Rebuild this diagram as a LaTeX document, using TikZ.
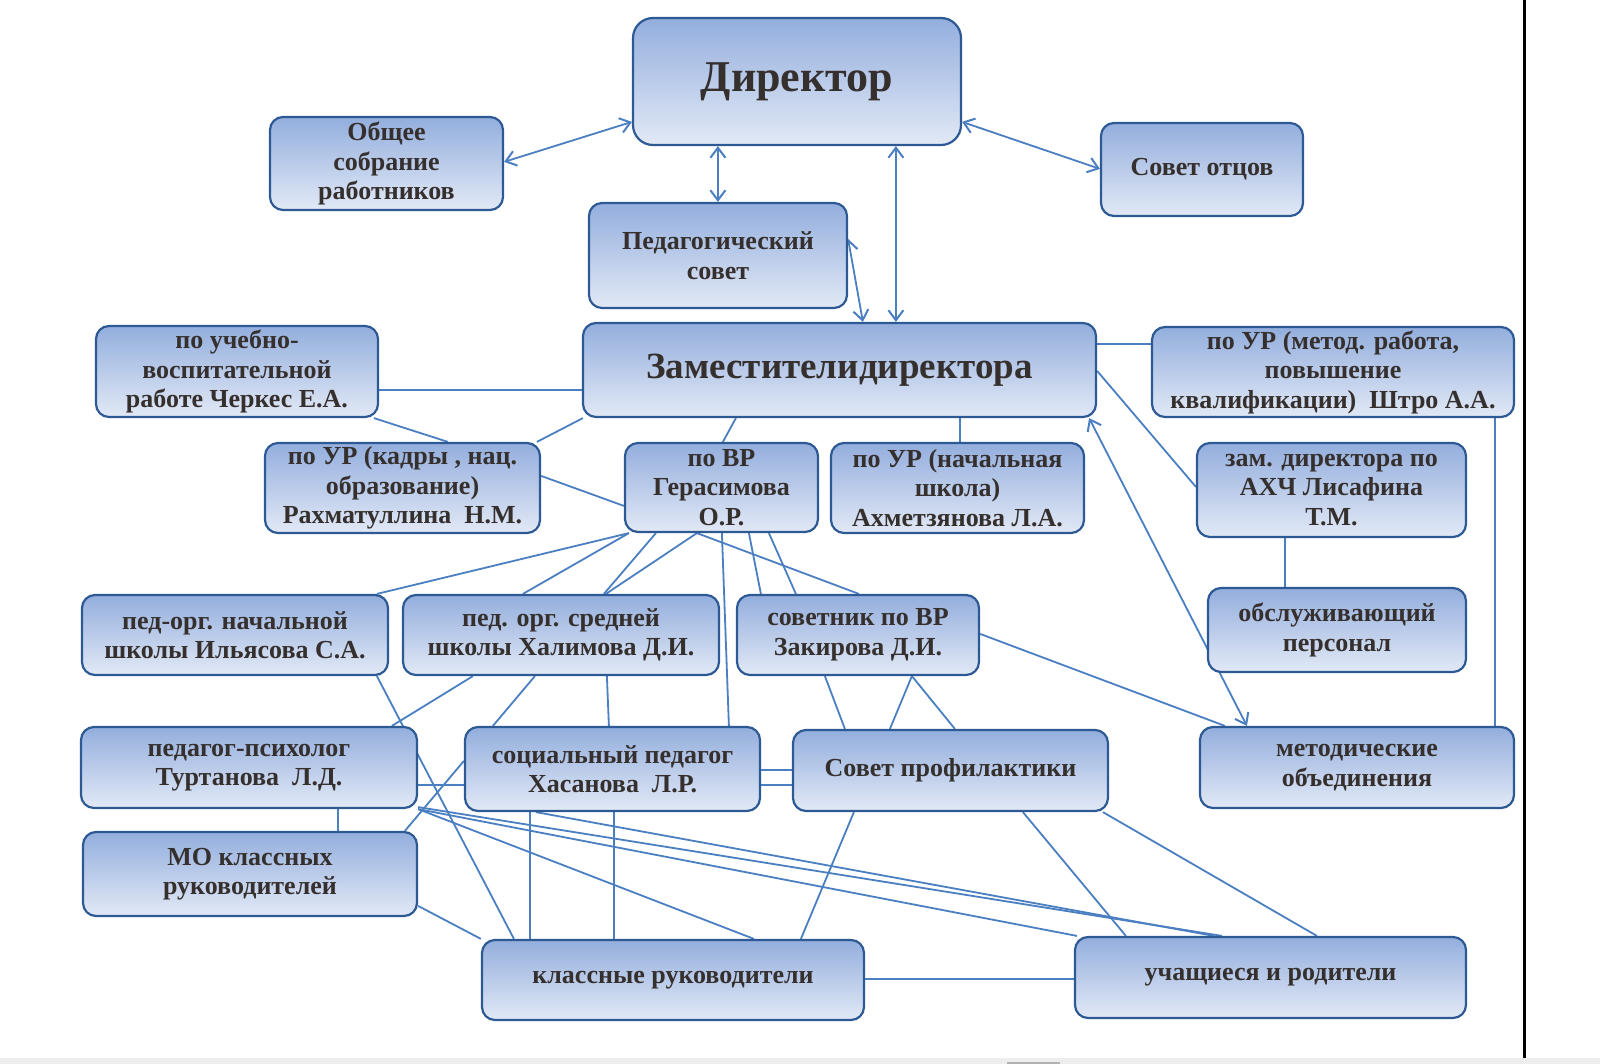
\documentclass[tikz,border=0pt]{standalone}
\usepackage{fontspec}
\setmainfont{Liberation Serif}
\usetikzlibrary{calc,arrows.meta}
\definecolor{boxtop}{HTML}{93AEDD}
\definecolor{boxbot}{HTML}{E2E9F6}
\definecolor{boxline}{HTML}{2D5A95}
\definecolor{connc}{HTML}{4A7FC1}
\definecolor{txtc}{HTML}{35302E}
\pgfdeclarelayer{bg}
\pgfsetlayers{bg,main}
\newcommand\myconn[5][link]{\draw[#1] ($(#2)+(#3)$) -- ($(#4)+(#5)$);}
\begin{document}
\begin{tikzpicture}[x=1pt,y=-1pt,
  box/.style={draw=boxline, line width=2.2pt, rounded corners=13pt,
    top color=boxtop, bottom color=boxbot, align=center, inner sep=0pt,
    text=txtc, font=\fontsize{26}{29.5}\selectfont\bfseries},
  link/.style={draw=connc, line width=1.8pt},
  dlink/.style={link, {Straight Barb[length=10pt,width=15pt,line width=2pt]}-{Straight Barb[length=10pt,width=15pt,line width=2pt]}}]
\useasboundingbox (0,0) rectangle (1600,1064);

\node[box, minimum width=328pt, minimum height=127pt, rounded corners=20pt,
  font=\fontsize{44}{48}\selectfont\bfseries] (dir) at (797,81.5) {Директор};
\node[box, minimum width=233pt, minimum height=93pt] (obs) at (386.5,163.5) {Общее\\собрание\\работников};
\node[box, minimum width=202pt, minimum height=93pt] (otc) at (1202,169.5) {Совет отцов};
\node[box, minimum width=258pt, minimum height=105pt] (ped) at (718,255.5) {Педагогический\\совет};
\node[box, minimum width=513pt, minimum height=94pt,
  font=\fontsize{37}{41}\selectfont\bfseries] (zam) at (839.5,370) {Заместителидиректора};
\node[box, minimum width=282pt, minimum height=91pt] (che) at (237,371.5) {по учебно-\\воспитательной\\работе Черкес Е.А.};
\node[box, minimum width=362pt, minimum height=90pt] (sht) at (1333,372) {по УР (метод. работа,\\повышение\\квалификации)\ \ Штро А.А.};
\node[box, minimum width=275pt, minimum height=90pt] (rah) at (402.5,488) {по УР (кадры , нац.\\образование)\\Рахматуллина\ \ Н.М.};
\node[box, minimum width=193pt, minimum height=89pt] (ger) at (721.5,487.5) {по ВР\\Герасимова\\О.Р.};
\node[box, minimum width=253pt, minimum height=90pt] (ahm) at (957.5,488) {по УР (начальная\\школа)\\Ахметзянова Л.А.};
\node[box, minimum width=269pt, minimum height=94pt] (ahc) at (1331.5,490) {зам. директора по\\АХЧ Лисафина\\Т.М.};
\node[box, minimum width=306pt, minimum height=80pt] (pon) at (235,635) {пед-орг. начальной\\школы Ильясова С.А.};
\node[box, minimum width=316pt, minimum height=80pt] (pos) at (561,635) {пед. орг. средней\\школы Халимова Д.И.};
\node[box, minimum width=242pt, minimum height=80pt] (sov) at (858,635) {советник по ВР\\Закирова Д.И.};
\node[box, minimum width=258pt, minimum height=84pt] (obl) at (1337,630) {обслуживающий\\персонал};
\node[box, minimum width=336pt, minimum height=81pt] (psy) at (249,767.5) {педагог-психолог\\Туртанова\ \ Л.Д.};
\node[box, minimum width=295pt, minimum height=84pt] (soc) at (612.5,769) {социальный педагог\\Хасанова\ \ Л.Р.};
\node[box, minimum width=315pt, minimum height=81pt] (prf) at (950.5,770.5) {Совет профилактики};
\node[box, minimum width=314pt, minimum height=81pt] (met) at (1357,767.5) {методические\\объединения};
\node[box, minimum width=334pt, minimum height=84pt] (mo) at (250,874) {МО классных\\руководителей};
\node[box, minimum width=382pt, minimum height=80pt] (kl) at (673,980) {классные руководители};
\node[box, minimum width=391pt, minimum height=81pt] (uch) at (1270.5,977.5) {учащиеся и родители};

\begin{pgfonlayer}{bg}
\fill[white] (0,0) rectangle (1600,1064);
\fill[black!7] (0,1058) rectangle (1600,1064);
\fill[black!30] (1007,1062) rectangle (1060,1064);
\draw[line width=3pt] (1524,0) -- (1524,1058);
\myconn[dlink]{obs.north east}{0,46}{dir.north west}{0,105}
\myconn[dlink]{dir.north east}{0,105}{otc.north west}{0,47}
\myconn[dlink]{dir.south west}{86,0}{ped.north west}{130,0}
\myconn[dlink]{dir.south west}{264,0}{zam.north west}{314,0}
\myconn[dlink]{ped.north east}{0,37}{zam.north west}{281,0}
\myconn{che.north east}{0,65}{zam.north west}{0,68}
\myconn{che.south west}{279,0}{rah.north west}{184,0}
\myconn{zam.south west}{1,0}{rah.north west}{273,0}
\myconn{zam.south west}{154,0}{ger.north west}{99,0}
\myconn{zam.south west}{378,0}{ahm.north west}{130,0}
\myconn{zam.north east}{0,22}{sht.north west}{0,18}
\myconn{zam.north east}{0,49}{ahc.north west}{0,45}
\myconn[dlink]{zam.south east}{-8,0}{met.north west}{48,0}
\myconn{sht.south west}{344,0}{met.north west}{296,0}
\myconn{ahc.south west}{89,0}{obl.north west}{78,0}
\myconn{rah.north east}{0,34}{ger.north west}{0,64}
\myconn{ger.south west}{5,0}{pon.north west}{296,0}
\myconn{ger.south west}{5,0}{pos.north west}{121,0}
\myconn{ger.south west}{32,0}{pos.north west}{202,0}
\myconn{ger.south west}{73,0}{pos.north west}{204,0}
\myconn{ger.south west}{73,0}{sov.north west}{123,0}
\myconn{ger.south west}{98,0}{soc.north west}{265,0}
\myconn{ger.south west}{125,0}{sov.north west}{25,0}
\myconn{ger.south west}{145,0}{sov.north west}{60,0}
\myconn{pon.south west}{296,0}{kl.north west}{33,0}
\myconn{pos.south west}{71,0}{psy.north west}{312,0}
\myconn{pos.south west}{133,0}{soc.north west}{29,0}
\myconn{pos.south west}{205,0}{soc.north west}{145,0}
\myconn{sov.south west}{89,0}{prf.north west}{53,0}
\myconn{sov.south west}{176,0}{prf.north west}{98,0}
\myconn{sov.south west}{176,0}{prf.north west}{163,0}
\myconn{sov.north east}{0,40}{met.north west}{26,0}
\myconn{psy.north east}{0,59}{soc.north west}{0,59}
\myconn{soc.north east}{0,44}{prf.north west}{0,41}
\myconn{soc.north east}{0,59}{prf.north west}{0,56}
\myconn{psy.south west}{258,0}{mo.north west}{256,0}
\myconn{mo.north west}{323,0}{soc.north west}{0,35}
\myconn{mo.north east}{0,75}{kl.north west}{0,0}
\myconn{psy.south east}{0,0}{kl.north west}{273,0}
\myconn{psy.south east}{0,0}{uch.north west}{3,0}
\myconn{psy.south east}{0,-2}{uch.north west}{148,0}
\myconn{soc.south west}{72,0}{uch.north west}{140,0}
\myconn{soc.south west}{66,0}{kl.north west}{49,0}
\myconn{soc.south west}{150,0}{kl.north west}{133,0}
\myconn{prf.south west}{62,0}{kl.north west}{320,0}
\myconn{prf.south west}{231,0}{uch.north west}{52,0}
\myconn{prf.south west}{311,0}{uch.north west}{243,0}
\myconn{kl.north east}{0,40}{uch.north west}{0,43}
\end{pgfonlayer}
\end{tikzpicture}
\end{document}
